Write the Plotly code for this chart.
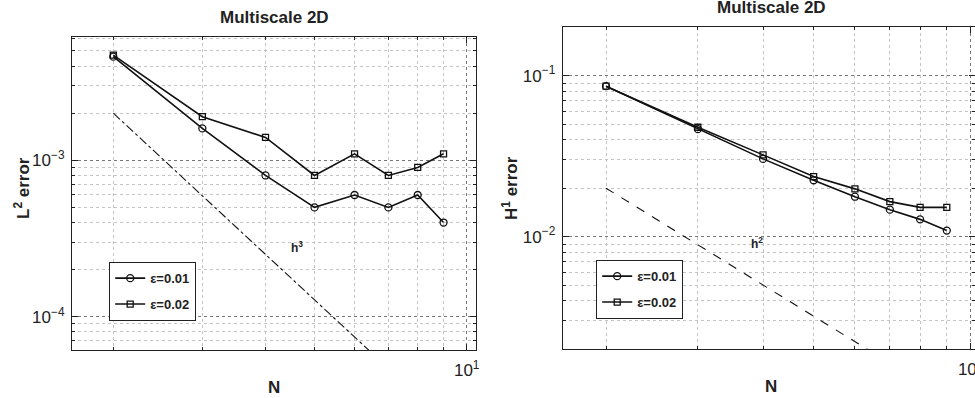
import plotly.graph_objects as go

# ---------------- data ----------------
N = [2, 3, 4, 5, 6, 7, 8, 9]
l2_eps001 = [4.6e-3, 1.6e-3, 8.0e-4, 5.0e-4, 6.0e-4, 5.0e-4, 6.0e-4, 4.0e-4]
l2_eps002 = [4.7e-3, 1.9e-3, 1.4e-3, 8.0e-4, 1.1e-3, 8.0e-4, 9.0e-4, 1.1e-3]
h1_eps001 = [0.086, 0.0465, 0.0304, 0.0224, 0.0177, 0.0147, 0.0128, 0.0109]
h1_eps002 = [0.086, 0.0478, 0.0322, 0.0236, 0.0198, 0.0165, 0.0152, 0.0152]
ref_N = [2, 9]
ref_h3 = [2.0e-3, 2.2e-5]
ref_h2 = [2.0e-2, 9.9e-4]
legend_labels = ["ε=0.01", "ε=0.02"]
title_text = "Multiscale 2D"

W, H = 975, 398
FONT = "Liberation Sans, Arial, Helvetica, sans-serif"
BLACK = "#111111"


def px(x):
    return x / W


def py(y):
    return 1 - y / H


fig = go.Figure()

# left panel
fig.add_trace(go.Scatter(x=N, y=l2_eps001, mode="lines+markers", name=legend_labels[0],
                         line=dict(color=BLACK, width=1.6),
                         marker=dict(symbol="circle-open", size=7, color=BLACK, line=dict(width=1.3)),
                         xaxis="x", yaxis="y", legend="legend", legendgroup="a"))
fig.add_trace(go.Scatter(x=N, y=l2_eps002, mode="lines+markers", name=legend_labels[1],
                         line=dict(color=BLACK, width=1.6),
                         marker=dict(symbol="square-open", size=6, color=BLACK, line=dict(width=1.3)),
                         xaxis="x", yaxis="y", legend="legend", legendgroup="b"))
fig.add_trace(go.Scatter(x=ref_N, y=ref_h3, mode="lines", showlegend=False,
                         line=dict(color=BLACK, width=1.1, dash="dashdot"),
                         xaxis="x", yaxis="y"))

# right panel
fig.add_trace(go.Scatter(x=N, y=h1_eps001, mode="lines+markers", name=legend_labels[0],
                         line=dict(color=BLACK, width=1.6),
                         marker=dict(symbol="circle-open", size=7, color=BLACK, line=dict(width=1.3)),
                         xaxis="x2", yaxis="y2", legend="legend2", legendgroup="c"))
fig.add_trace(go.Scatter(x=N, y=h1_eps002, mode="lines+markers", name=legend_labels[1],
                         line=dict(color=BLACK, width=1.6),
                         marker=dict(symbol="square-open", size=6, color=BLACK, line=dict(width=1.3)),
                         xaxis="x2", yaxis="y2", legend="legend2", legendgroup="d"))
fig.add_trace(go.Scatter(x=ref_N, y=ref_h2, mode="lines", showlegend=False,
                         line=dict(color=BLACK, width=1.1, dash="dash"),
                         xaxis="x2", yaxis="y2"))

minor_x = [2, 3, 4, 5, 6, 7, 8, 9, 20]
minor_l2 = [k * 10.0 ** e for e in (-5, -4, -3) for k in range(2, 10)]
minor_h1 = [k * 10.0 ** e for e in (-3, -2, -1) for k in range(2, 10)]

common = dict(type="log", showline=True, linecolor="#222", linewidth=1, mirror="allticks",
              ticks="inside", ticklen=6, tickcolor="#222", tickwidth=1,
              showgrid=True, gridcolor="#777", griddash="dot", gridwidth=1,
              zeroline=False, automargin=False, ticklabeloverflow="allow",
              tickfont=dict(family=FONT, size=17, color="#222"))


def minor(vals):
    return dict(tickmode="array", tickvals=vals, ticks="inside", ticklen=3, tickcolor="#222",
                showgrid=True, gridcolor="#c4c4c4", griddash="dot", gridwidth=1)


fig.update_layout(
    width=W, height=H, margin=dict(l=0, r=0, t=0, b=0),
    paper_bgcolor="white", plot_bgcolor="white", template="none",
    font=dict(family=FONT, color="#222"),
    xaxis=dict(common, domain=[px(72), px(476)], range=[0.2193, 1.0184],
               tickvals=[1, 10], ticktext=["10<sup>0</sup>", "10<sup>1</sup>"],
               minor=minor(minor_x), anchor="y", ticklabelstandoff=5),
    yaxis=dict(common, domain=[py(350), py(37)], range=[-4.213, -2.2116],
               tickvals=[1e-5, 1e-4, 1e-3, 1e-2],
               ticktext=["10<sup>−5</sup>", "10<sup>−4</sup>", "10<sup>−3</sup>", "10<sup>−2</sup>"],
               minor=minor(minor_l2), anchor="x", ticklabelstandoff=3),
    xaxis2=dict(common, domain=[px(562.7), 1.0], range=[0.218, 1.0083],
                tickvals=[1, 10], ticktext=["10<sup>0</sup>", "10<sup>1</sup>"],
                minor=minor(minor_x), anchor="y2", ticklabelstandoff=5),
    yaxis2=dict(common, domain=[py(349), py(26.7)], range=[-2.698, -0.696],
                tickvals=[1e-3, 1e-2, 1e-1],
                ticktext=["10<sup>−3</sup>", "10<sup>−2</sup>", "10<sup>−1</sup>"],
                minor=minor(minor_h1), anchor="x2", ticklabelstandoff=3),
    legend=dict(x=px(109), y=py(262), xanchor="left", yanchor="top",
                bgcolor="white", bordercolor="#222", borderwidth=1.2,
                font=dict(family=FONT, size=13, color="#222", weight="bold"),
                tracegroupgap=6, itemwidth=30),
    legend2=dict(x=px(596), y=py(260), xanchor="left", yanchor="top",
                 bgcolor="white", bordercolor="#222", borderwidth=1.2,
                 font=dict(family=FONT, size=13, color="#222", weight="bold"),
                 tracegroupgap=6, itemwidth=30),
)

ann_font = dict(family=FONT, color="#222")
annotations = [
    dict(text="<b>" + title_text + "</b>", x=px(274), y=py(17), xref="paper", yref="paper",
         showarrow=False, xanchor="center", yanchor="middle", font=dict(ann_font, size=17)),
    dict(text="<b>" + title_text + "</b>", x=px(771), y=py(8), xref="paper", yref="paper",
         showarrow=False, xanchor="center", yanchor="middle", font=dict(ann_font, size=17)),
    dict(text="<b>N</b>", x=px(274), y=py(387), xref="paper", yref="paper",
         showarrow=False, xanchor="center", yanchor="middle", font=dict(ann_font, size=17)),
    dict(text="<b>N</b>", x=px(771), y=py(386), xref="paper", yref="paper",
         showarrow=False, xanchor="center", yanchor="middle", font=dict(ann_font, size=17)),
    dict(text="<b>L<sup>2</sup> error</b>", x=px(22), y=py(188), xref="paper", yref="paper",
         showarrow=False, textangle=-90, xanchor="center", yanchor="middle", font=dict(ann_font, size=17)),
    dict(text="<b>H<sup>1</sup> error</b>", x=px(510), y=py(188), xref="paper", yref="paper",
         showarrow=False, textangle=-90, xanchor="center", yanchor="middle", font=dict(ann_font, size=17)),
    dict(text="<b>h<sup>3</sup></b>", x=0.664, y=-3.554, xref="x", yref="y",
         showarrow=False, xanchor="center", yanchor="middle", font=dict(ann_font, size=12)),
    dict(text="<b>h<sup>2</sup></b>", x=0.5905, y=-2.039, xref="x2", yref="y2",
         showarrow=False, xanchor="center", yanchor="middle", font=dict(ann_font, size=12)),
]
fig.update_layout(annotations=annotations)

fig.write_html("out.html", config={"displayModeBar": False},
               post_script="document.body.style.margin='0';document.body.style.overflow='hidden';")
